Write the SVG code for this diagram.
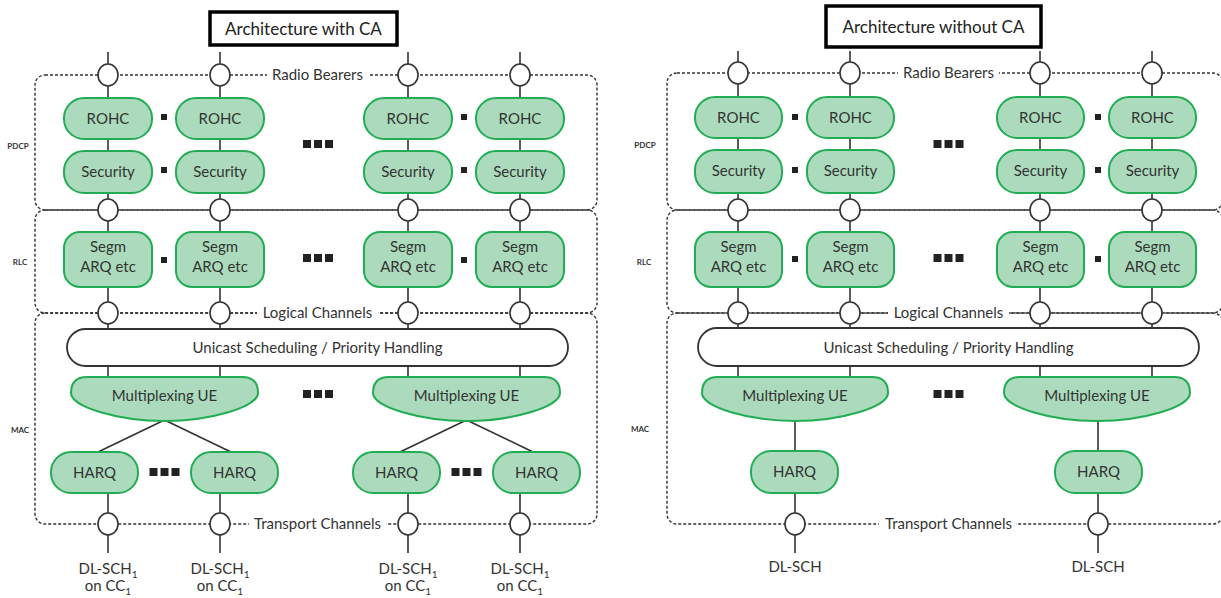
<svg xmlns="http://www.w3.org/2000/svg" width="1221" height="598" viewBox="0 0 1221 598">
<style>
.bg{fill:#fff}
.box{fill:#abdbbc;stroke:#22ad55;stroke-width:2}
.wbox{fill:#fff;stroke:#333;stroke-width:1.8}
.title{fill:#fff;stroke:#000;stroke-width:3.5}
.t{font-family:Lato,"Liberation Sans",sans-serif;font-size:15px;fill:#333;text-anchor:middle}
.tt{font-family:Lato,"Liberation Sans",sans-serif;font-size:17px;fill:#222;text-anchor:middle}
.lay{font-family:Lato,"Liberation Sans",sans-serif;font-size:8px;font-weight:bold;fill:#333;text-anchor:middle}
.ln{stroke:#333;stroke-width:1.6;fill:none}
.c{fill:#fff;stroke:#333;stroke-width:1.6}
.dash{fill:none;stroke:#333;stroke-width:1.4;stroke-dasharray:3 2}
.sq{fill:#222}
.sub{font-size:10px}
</style>
<defs>
<ellipse id="circ" class="c" cx="0" cy="0" rx="10" ry="11"/>
<rect id="sm" class="sq" x="-3" y="-3" width="6" height="6"/>
<g id="dots" class="sq"><rect x="-15" y="-4" width="8" height="8"/><rect x="-4" y="-4" width="8" height="8"/><rect x="7" y="-4" width="8" height="8"/></g>
</defs>
<rect class="bg" x="0" y="0" width="1221" height="598"/>

<!-- layer frames -->
<g id="frames">
<rect class="dash" x="35" y="75" width="562" height="135" rx="10"/>
<rect class="dash" x="35" y="210" width="562" height="103" rx="10"/>
<rect class="dash" x="35" y="313" width="562" height="211" rx="10"/>
<rect class="dash" x="667" y="73" width="556" height="137" rx="10"/>
<rect class="dash" x="667" y="210" width="556" height="103" rx="10"/>
<rect class="dash" x="667" y="313" width="556" height="211" rx="10"/>
<rect class="bg" x="267" y="64" width="101" height="20"/>
<text class="t" x="317.5" y="80">Radio Bearers</text>
<rect class="bg" x="257" y="303" width="121" height="20"/>
<text class="t" x="317.5" y="318">Logical Channels</text>
<rect class="bg" x="249" y="514" width="137" height="20"/>
<text class="t" x="317.5" y="529">Transport Channels</text>
<rect class="bg" x="898" y="62" width="101" height="20"/>
<text class="t" x="948.5" y="78">Radio Bearers</text>
<rect class="bg" x="888" y="303" width="121" height="20"/>
<text class="t" x="948.5" y="318">Logical Channels</text>
<rect class="bg" x="879" y="514" width="137" height="20"/>
<text class="t" x="948.5" y="529">Transport Channels</text>
<text class="lay" x="18" y="149">PDCP</text>
<text class="lay" x="20" y="265">RLC</text>
<text class="lay" x="20" y="433">MAC</text>
<text class="lay" x="645" y="148">PDCP</text>
<text class="lay" x="644" y="265">RLC</text>
<text class="lay" x="640" y="432">MAC</text>
</g>

<!-- connectors -->
<g id="connectors" class="ln">
<line x1="108" y1="52" x2="108" y2="377"/>
<line x1="220" y1="52" x2="220" y2="377"/>
<line x1="408" y1="52" x2="408" y2="377"/>
<line x1="520" y1="52" x2="520" y2="377"/>
<line x1="108" y1="493" x2="108" y2="553"/>
<line x1="220" y1="493" x2="220" y2="553"/>
<line x1="408" y1="493" x2="408" y2="553"/>
<line x1="520" y1="493" x2="520" y2="553"/>
<line x1="164.5" y1="420" x2="98" y2="452"/>
<line x1="164.5" y1="420" x2="231" y2="452"/>
<line x1="466.5" y1="420" x2="400" y2="452"/>
<line x1="466.5" y1="420" x2="533" y2="452"/>
<line x1="738" y1="51" x2="738" y2="377"/>
<line x1="850" y1="51" x2="850" y2="377"/>
<line x1="1040" y1="51" x2="1040" y2="377"/>
<line x1="1152" y1="51" x2="1152" y2="377"/>
<line x1="795" y1="420" x2="795" y2="553"/>
<line x1="1098" y1="420" x2="1098" y2="553"/>
</g>

<g id="sap-circles">
<use href="#circ" x="108" y="75"/><use href="#circ" x="220" y="75"/><use href="#circ" x="408" y="75"/><use href="#circ" x="520" y="75"/>
<use href="#circ" x="108" y="210"/><use href="#circ" x="220" y="210"/><use href="#circ" x="408" y="210"/><use href="#circ" x="520" y="210"/>
<use href="#circ" x="108" y="313"/><use href="#circ" x="220" y="313"/><use href="#circ" x="408" y="313"/><use href="#circ" x="520" y="313"/>
<use href="#circ" x="108" y="524"/><use href="#circ" x="220" y="524"/><use href="#circ" x="408" y="524"/><use href="#circ" x="520" y="524"/>
<use href="#circ" x="738" y="73"/><use href="#circ" x="850" y="73"/><use href="#circ" x="1040" y="73"/><use href="#circ" x="1152" y="73"/>
<use href="#circ" x="738" y="210"/><use href="#circ" x="850" y="210"/><use href="#circ" x="1040" y="210"/><use href="#circ" x="1152" y="210"/>
<use href="#circ" x="738" y="313"/><use href="#circ" x="850" y="313"/><use href="#circ" x="1040" y="313"/><use href="#circ" x="1152" y="313"/>
<use href="#circ" x="795" y="524"/><use href="#circ" x="1098" y="524"/>
</g>

<!-- titles -->
<g id="title-ca"><rect class="title" x="210" y="12" width="187" height="33"/><text class="tt" x="303.5" y="34.5">Architecture with CA</text></g>
<g id="title-noca"><rect class="title" x="826" y="6" width="215" height="41"/><text class="tt" x="933.5" y="32.5">Architecture without CA</text></g>

<!-- left panel nodes -->
<g id="L-rohc1"><rect class="box" x="64" y="98" width="88" height="41" rx="20"/><text class="t" x="108" y="124">ROHC</text></g>
<g id="L-rohc2"><rect class="box" x="176" y="98" width="88" height="41" rx="20"/><text class="t" x="220" y="124">ROHC</text></g>
<g id="L-rohc3"><rect class="box" x="364" y="98" width="88" height="41" rx="20"/><text class="t" x="408" y="124">ROHC</text></g>
<g id="L-rohc4"><rect class="box" x="476" y="98" width="88" height="41" rx="20"/><text class="t" x="520" y="124">ROHC</text></g>
<g id="L-sec1"><rect class="box" x="64" y="151" width="88" height="42" rx="20"/><text class="t" x="108" y="177">Security</text></g>
<g id="L-sec2"><rect class="box" x="176" y="151" width="88" height="42" rx="20"/><text class="t" x="220" y="177">Security</text></g>
<g id="L-sec3"><rect class="box" x="364" y="151" width="88" height="42" rx="20"/><text class="t" x="408" y="177">Security</text></g>
<g id="L-sec4"><rect class="box" x="476" y="151" width="88" height="42" rx="20"/><text class="t" x="520" y="177">Security</text></g>
<g id="L-seg1"><rect class="box" x="64" y="232" width="88" height="55" rx="16"/><text class="t" x="108" y="252">Segm</text><text class="t" x="108" y="272">ARQ etc</text></g>
<g id="L-seg2"><rect class="box" x="176" y="232" width="88" height="55" rx="16"/><text class="t" x="220" y="252">Segm</text><text class="t" x="220" y="272">ARQ etc</text></g>
<g id="L-seg3"><rect class="box" x="364" y="232" width="88" height="55" rx="16"/><text class="t" x="408" y="252">Segm</text><text class="t" x="408" y="272">ARQ etc</text></g>
<g id="L-seg4"><rect class="box" x="476" y="232" width="88" height="55" rx="16"/><text class="t" x="520" y="252">Segm</text><text class="t" x="520" y="272">ARQ etc</text></g>
<g id="L-sched"><rect class="wbox" x="67" y="329" width="501" height="37" rx="18.5"/><text class="t" x="317.5" y="353">Unicast Scheduling / Priority Handling</text></g>
<g id="L-mux1"><path class="box" d="M87,377 H242 Q258,377 258,393 C258,407 210,421 164.5,421 C119,421 71,407 71,393 Q71,377 87,377 Z"/><text class="t" x="164.5" y="401">Multiplexing UE</text></g>
<g id="L-mux2"><path class="box" d="M389,377 H544 Q560,377 560,393 C560,407 512,421 466.5,421 C421,421 373,407 373,393 Q373,377 389,377 Z"/><text class="t" x="466.5" y="401">Multiplexing UE</text></g>
<g id="L-harq1"><rect class="box" x="51" y="452" width="87" height="41" rx="20"/><text class="t" x="94.5" y="478">HARQ</text></g>
<g id="L-harq2"><rect class="box" x="191" y="452" width="87" height="41" rx="20"/><text class="t" x="234.5" y="478">HARQ</text></g>
<g id="L-harq3"><rect class="box" x="353" y="452" width="87" height="41" rx="20"/><text class="t" x="396.5" y="478">HARQ</text></g>
<g id="L-harq4"><rect class="box" x="493" y="452" width="87" height="41" rx="20"/><text class="t" x="536.5" y="478">HARQ</text></g>
<g id="L-out1"><text class="t" x="108" y="574">DL-SCH<tspan class="sub" dy="4">1</tspan></text><text class="t" x="108" y="591">on CC<tspan class="sub" dy="4">1</tspan></text></g>
<g id="L-out2"><text class="t" x="220" y="574">DL-SCH<tspan class="sub" dy="4">1</tspan></text><text class="t" x="220" y="591">on CC<tspan class="sub" dy="4">1</tspan></text></g>
<g id="L-out3"><text class="t" x="408" y="574">DL-SCH<tspan class="sub" dy="4">1</tspan></text><text class="t" x="408" y="591">on CC<tspan class="sub" dy="4">1</tspan></text></g>
<g id="L-out4"><text class="t" x="520" y="574">DL-SCH<tspan class="sub" dy="4">1</tspan></text><text class="t" x="520" y="591">on CC<tspan class="sub" dy="4">1</tspan></text></g>

<!-- right panel nodes -->
<g id="R-rohc1"><rect class="box" x="695" y="97" width="87" height="41" rx="20"/><text class="t" x="738.5" y="123">ROHC</text></g>
<g id="R-rohc2"><rect class="box" x="807" y="97" width="87" height="41" rx="20"/><text class="t" x="850.5" y="123">ROHC</text></g>
<g id="R-rohc3"><rect class="box" x="997" y="97" width="87" height="41" rx="20"/><text class="t" x="1040.5" y="123">ROHC</text></g>
<g id="R-rohc4"><rect class="box" x="1109" y="97" width="87" height="41" rx="20"/><text class="t" x="1152.5" y="123">ROHC</text></g>
<g id="R-sec1"><rect class="box" x="695" y="150" width="87" height="43" rx="20"/><text class="t" x="738.5" y="176">Security</text></g>
<g id="R-sec2"><rect class="box" x="807" y="150" width="87" height="43" rx="20"/><text class="t" x="850.5" y="176">Security</text></g>
<g id="R-sec3"><rect class="box" x="997" y="150" width="87" height="43" rx="20"/><text class="t" x="1040.5" y="176">Security</text></g>
<g id="R-sec4"><rect class="box" x="1109" y="150" width="87" height="43" rx="20"/><text class="t" x="1152.5" y="176">Security</text></g>
<g id="R-seg1"><rect class="box" x="695" y="232" width="87" height="55" rx="16"/><text class="t" x="738.5" y="252">Segm</text><text class="t" x="738.5" y="272">ARQ etc</text></g>
<g id="R-seg2"><rect class="box" x="807" y="232" width="87" height="55" rx="16"/><text class="t" x="850.5" y="252">Segm</text><text class="t" x="850.5" y="272">ARQ etc</text></g>
<g id="R-seg3"><rect class="box" x="997" y="232" width="87" height="55" rx="16"/><text class="t" x="1040.5" y="252">Segm</text><text class="t" x="1040.5" y="272">ARQ etc</text></g>
<g id="R-seg4"><rect class="box" x="1109" y="232" width="87" height="55" rx="16"/><text class="t" x="1152.5" y="252">Segm</text><text class="t" x="1152.5" y="272">ARQ etc</text></g>
<g id="R-sched"><rect class="wbox" x="698" y="328" width="501" height="38" rx="19"/><text class="t" x="948.5" y="353">Unicast Scheduling / Priority Handling</text></g>
<g id="R-mux1"><path class="box" d="M718,377 H872 Q888,377 888,393 C888,407 841,421 795,421 C749,421 702,407 702,393 Q702,377 718,377 Z"/><text class="t" x="795" y="401">Multiplexing UE</text></g>
<g id="R-mux2"><path class="box" d="M1020,377 H1174 Q1190,377 1190,393 C1190,407 1143,421 1097,421 C1051,421 1004,407 1004,393 Q1004,377 1020,377 Z"/><text class="t" x="1097" y="401">Multiplexing UE</text></g>
<g id="R-harq1"><rect class="box" x="751" y="451" width="87" height="42" rx="20"/><text class="t" x="794.5" y="477">HARQ</text></g>
<g id="R-harq2"><rect class="box" x="1055" y="451" width="87" height="42" rx="20"/><text class="t" x="1098.5" y="477">HARQ</text></g>
<g id="R-out1"><text class="t" x="795" y="572">DL-SCH</text></g>
<g id="R-out2"><text class="t" x="1098" y="572">DL-SCH</text></g>

<!-- ellipsis markers -->
<g id="ellipses">
<use href="#sm" x="164" y="117"/><use href="#sm" x="164" y="170"/><use href="#sm" x="164" y="260"/>
<use href="#sm" x="464" y="117"/><use href="#sm" x="464" y="170"/><use href="#sm" x="464" y="260"/>
<use href="#sm" x="795" y="117"/><use href="#sm" x="795" y="170"/><use href="#sm" x="795" y="259"/>
<use href="#sm" x="1098" y="117"/><use href="#sm" x="1098" y="170"/><use href="#sm" x="1098" y="259"/>
<use href="#dots" x="318" y="144"/><use href="#dots" x="318" y="258"/><use href="#dots" x="318" y="394"/>
<use href="#dots" x="164.5" y="472"/><use href="#dots" x="466.5" y="472"/>
<use href="#dots" x="948.5" y="144"/><use href="#dots" x="948.5" y="258"/><use href="#dots" x="948.5" y="394"/>
</g>
</svg>
